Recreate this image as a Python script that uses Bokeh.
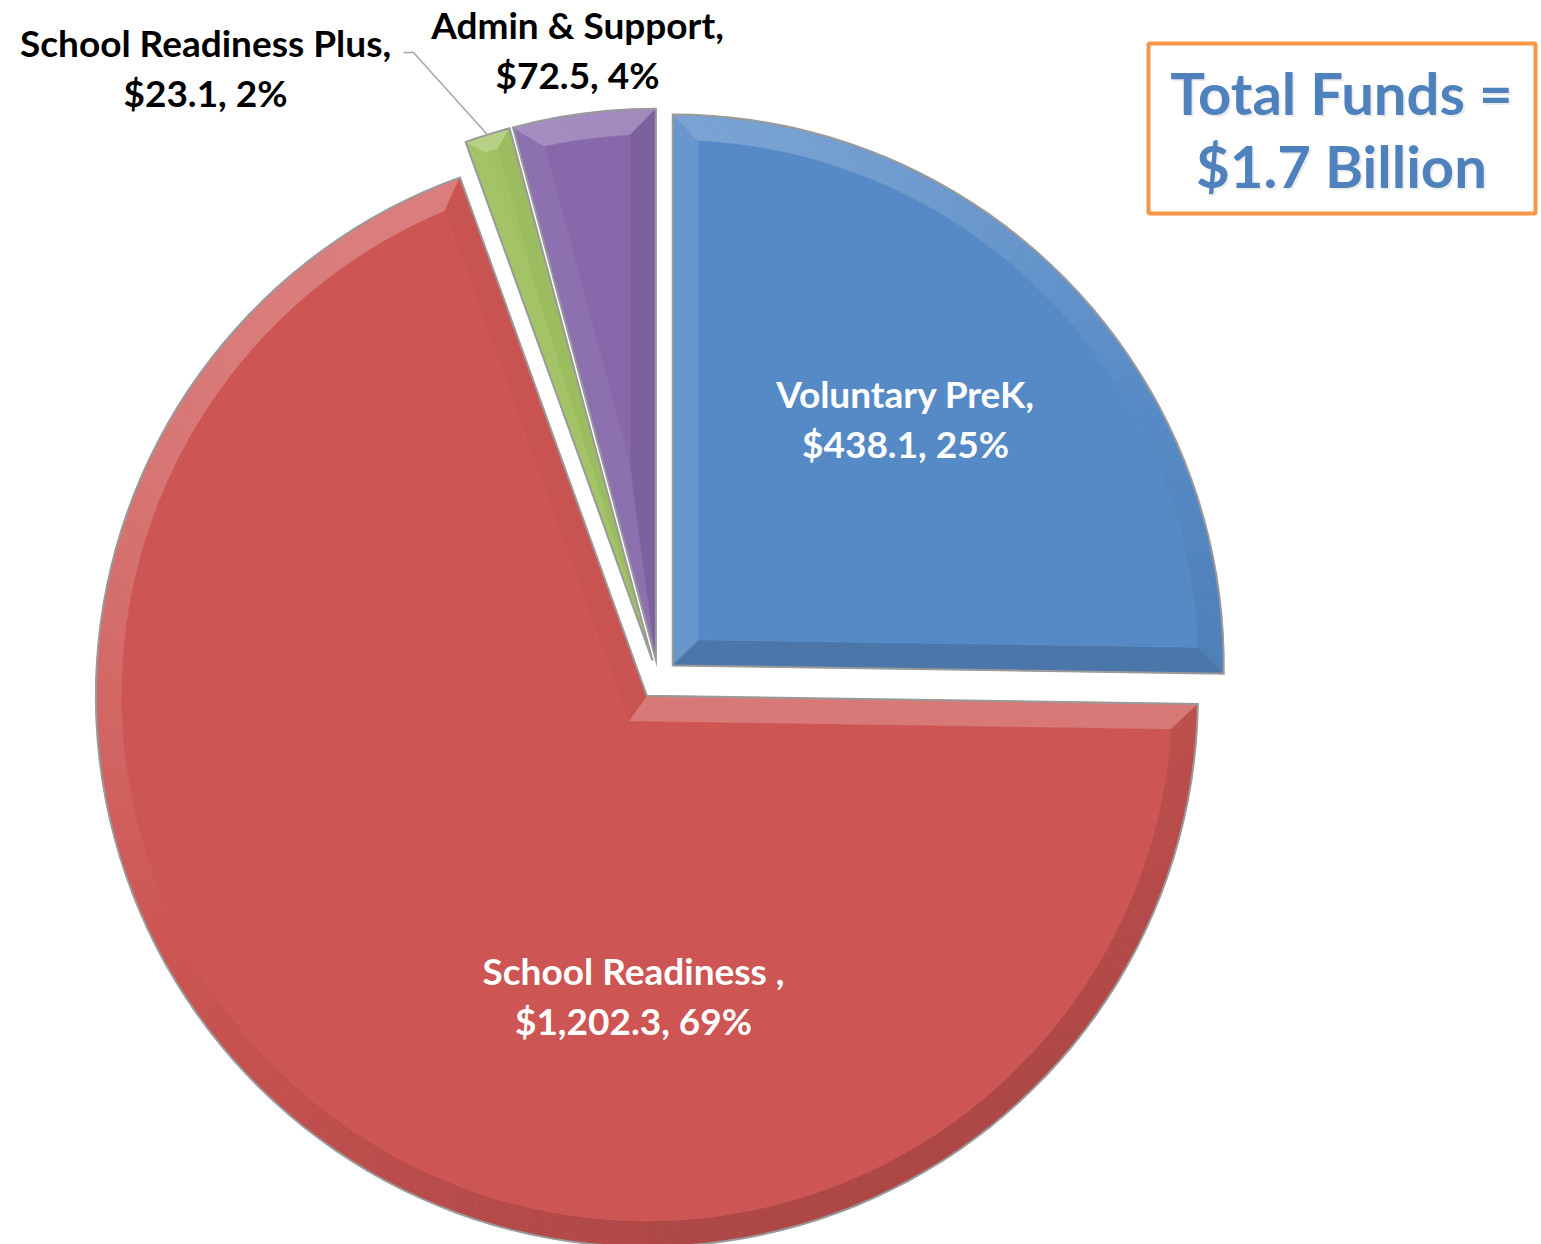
import numpy as np
from bokeh.plotting import figure
from bokeh.models import Range1d, BoxAnnotation
from bokeh.embed import file_html
from bokeh.resources import INLINE
from bokeh.core.properties import value

# ---------------- data ----------------
categories = ["Voluntary PreK", "School Readiness", "School Readiness Plus", "Admin & Support"]
label_names = ["Voluntary PreK,", "School Readiness ,", "School Readiness Plus,", "Admin & Support,"]
amounts = [438.1, 1202.3, 23.1, 72.5]
amount_labels = ["$438.1", "$1,202.3", "$23.1", "$72.5"]
percent_labels = ["25%", "69%", "2%", "4%"]
colors = ["#568AC6", "#CD5553", "#A0C262", "#8769AB"]
label_colors = ["white", "white", "black", "black"]
total_lines = ["Total Funds =", "$1.7 Billion"]

# ---------------- layout ----------------
W, H = 1541, 1244
FONT = "Lato"
CX, CY, R, EXPLODE = 658, H - 679, 551, 20
# label centres (screen px): first line, second line
label_pos = [(905, 393), (633, 970), (205, 42), (577, 24)]
LINE_GAP = 50
LABEL_SIZE = "37px"

p = figure(width=W, height=H, x_range=Range1d(0, W), y_range=Range1d(0, H),
           output_backend="svg", toolbar_location=None, min_border=0,
           x_axis_type=None, y_axis_type=None)
p.grid.visible = False
p.outline_line_color = None
p.background_fill_color = "white"


def mix(hexc, target, t):
    c = np.array([int(hexc[i:i + 2], 16) for i in (1, 3, 5)], float)
    tg = np.array(target, float)
    r = c + (tg - c) * t
    return "#%02x%02x%02x" % tuple(int(round(v)) for v in np.clip(r, 0, 255))


def shade(base, nx, ny):
    L = np.array([-0.45, 0.9])
    L = L / np.linalg.norm(L)
    s = nx * L[0] + ny * L[1]
    if s >= 0:
        return mix(base, (255, 255, 255), 0.24 * s)
    return mix(base, (0, 0, 0), 0.16 * (-s))


vals = np.array(amounts, float)
frac = vals / vals.sum()
cum = np.concatenate([[0], np.cumsum(frac)])
start = np.pi / 2 - 2 * np.pi * cum[:-1]
end = np.pi / 2 - 2 * np.pi * cum[1:]
mid = (start + end) / 2
ox = CX + EXPLODE * np.cos(mid)
oy = CY + EXPLODE * np.sin(mid)

bev_xs, bev_ys, bev_cols = [], [], []
in_xs, in_ys, in_cols = [], [], []
out_xs, out_ys = [], []
for i in range(len(vals)):
    a0, a1 = start[i], end[i]
    half = (a0 - a1) / 2
    sh = np.sin(half)
    t = min(26.0, 0.75 * R * sh / (1 + sh)) if half < np.pi / 2 else 26.0
    n = max(6, int(np.degrees(a0 - a1) / 2))
    ak = np.linspace(a0, a1, n)
    Px = ox[i] + R * np.cos(ak)
    Py = oy[i] + R * np.sin(ak)
    Rp = R - t
    dl = np.arcsin(t / Rp)
    bk = np.linspace(a0 - dl, a1 + dl, n)
    Qx = ox[i] + Rp * np.cos(bk)
    Qy = oy[i] + Rp * np.sin(bk)
    qa_x = ox[i] + t / sh * np.cos(mid[i])
    qa_y = oy[i] + t / sh * np.sin(mid[i])
    base = colors[i]
    # start radial edge
    bev_xs.append([ox[i], Px[0], Qx[0], qa_x]); bev_ys.append([oy[i], Py[0], Qy[0], qa_y])
    bev_cols.append(shade(base, np.cos(a0 + np.pi / 2), np.sin(a0 + np.pi / 2)))
    # arc segments
    for k in range(n - 1):
        bev_xs.append([Px[k], Px[k + 1], Qx[k + 1], Qx[k]])
        bev_ys.append([Py[k], Py[k + 1], Qy[k + 1], Qy[k]])
        am = (ak[k] + ak[k + 1]) / 2
        bev_cols.append(shade(base, np.cos(am), np.sin(am)))
    # end radial edge
    bev_xs.append([Px[-1], ox[i], qa_x, Qx[-1]]); bev_ys.append([Py[-1], oy[i], qa_y, Qy[-1]])
    bev_cols.append(shade(base, np.cos(a1 - np.pi / 2), np.sin(a1 - np.pi / 2)))
    in_xs.append([qa_x] + list(Qx)); in_ys.append([qa_y] + list(Qy)); in_cols.append(base)
    out_xs.append([ox[i]] + list(Px)); out_ys.append([oy[i]] + list(Py))

p.patches(bev_xs, bev_ys, fill_color=bev_cols, line_color=bev_cols, line_width=0.8)
p.patches(in_xs, in_ys, fill_color=in_cols, line_color=in_cols, line_width=0.8)
p.patches(out_xs, out_ys, fill_color=None, line_color="#9a9a9a", line_width=2, line_join="miter")

# leader line for School Readiness Plus
gi = 2
ex = ox[gi] + R * np.cos(mid[gi])
ey = oy[gi] + R * np.sin(mid[gi])
p.line([403, 413, ex], [H - 52, H - 52, ey], line_color="#a6a6a6", line_width=1.5)

# labels
for i in range(len(vals)):
    x, y = label_pos[i]
    p.text([x, x], [H - y, H - y - LINE_GAP],
           text=[label_names[i], f"{amount_labels[i]}, {percent_labels[i]}"],
           text_font=value(FONT), text_font_style="bold", text_font_size=LABEL_SIZE,
           text_color=label_colors[i], text_align="center", text_baseline="middle")

# total funds box
p.add_layout(BoxAnnotation(left=1148, right=1535, top=H - 43, bottom=H - 213,
                           fill_alpha=0, line_color="#F79646", line_alpha=1.0, line_width=4))
p.text([1341, 1341], [H - 92, H - 165], text=total_lines,
       text_font=value(FONT), text_font_style="bold", text_font_size="58px",
       text_color="#c8c8c8", text_alpha=0.35, text_align="center", text_baseline="middle",
       x_offset=2, y_offset=2)
p.text([1341, 1341], [H - 92, H - 165], text=total_lines,
       text_font=value(FONT), text_font_style="bold", text_font_size="58px",
       text_color="#4F81BD", text_align="center", text_baseline="middle")

open("out.html", "w").write(file_html(p, INLINE))
